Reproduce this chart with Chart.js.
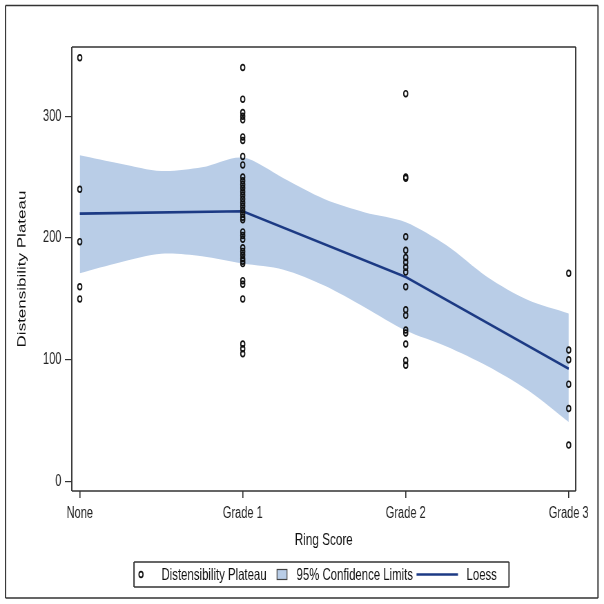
<!DOCTYPE html>
<html>
<head>
<meta charset="utf-8">
<script src="https://cdn.jsdelivr.net/npm/chart.js@4"></script>
<style>
html, body { margin: 0; padding: 0; background: #fff; }
#wrap { width: 604px; height: 604px; overflow: hidden; position: relative; }
/* the original picture is squeezed sideways, so draw wide and squeeze */
#chart { position: absolute; left: 0; top: 0; transform: scaleX(0.6903); transform-origin: 0 0; }
</style>
</head>
<body>
<div id="wrap"><canvas id="chart" width="875" height="604"></canvas></div>
<script>
var categories = ["None", "Grade 1", "Grade 2", "Grade 3"];
var noneValues = [348, 240, 197, 160, 150];
var grade1Values = [340, 314, 303, 300, 297, 283, 280, 267, 260, 250, 247, 244, 241, 238, 235, 232, 229, 226, 223, 220, 217, 215,
                    205, 202, 199, 192, 189, 186, 183, 181, 179, 165, 162, 150, 113, 109, 105];
var grade2Values = [318.5, 250, 249, 201, 190, 184, 180, 176, 172, 160, 141, 136.5, 124.5, 122, 113, 99.5, 95.5];
var grade3Values = [171, 108, 100, 80, 60, 30];
var loessValues = [220, 222, 168, 92.6];
var bandPos = [0, 0.25, 0.5, 0.75, 1, 1.25, 1.5, 1.75, 2, 2.25, 2.5, 2.75, 3];
var bandUpper = [268, 261, 255, 258, 266, 249, 232, 221, 213, 194, 168, 149, 138];
var bandLower = [171, 180, 187, 185, 179, 174, 161, 143, 124, 111, 95, 75, 49];
var yTicks = [0, 100, 200, 300];

var F = 0.6903;           // horizontal squeeze
var bandColor = '#b9cde7';
var loessColor = '#1c3a84';
var fontFam = "'Liberation Sans', Arial, sans-serif";
Chart.defaults.font.family = fontFam;

var groups = [noneValues, grade1Values, grade2Values, grade3Values];
var pts = [];
groups.forEach(function (vals, i) {
  vals.forEach(function (v) { pts.push({x: i, y: v}); });
});

function xy(xs, ys) {
  return xs.map(function (x, i) { return {x: x, y: ys[i]}; });
}

function X(v) { return v / F; }  // final px -> canvas px

var framePlugin = {
  id: 'frames',
  afterDraw: function (chart) {
    var ctx = chart.ctx, a = chart.chartArea;
    ctx.save();
    ctx.strokeStyle = '#333';
    function box(l, t, r, b) {
      ctx.lineWidth = 1.3;
      ctx.beginPath();
      ctx.moveTo(l, t); ctx.lineTo(r, t);
      ctx.moveTo(l, b); ctx.lineTo(r, b);
      ctx.stroke();
      ctx.lineWidth = 1.9;
      ctx.beginPath();
      ctx.moveTo(l, t); ctx.lineTo(l, b);
      ctx.moveTo(r, t); ctx.lineTo(r, b);
      ctx.stroke();
    }
    box(a.left, a.top, a.right, a.bottom);
    box(X(5.5), 5.5, X(598), 598);

    // legend
    var ly = 574.5;
    box(X(134), 562, X(509), 587);
    ctx.lineWidth = 1.7;
    ctx.strokeStyle = '#111';
    ctx.beginPath();
    ctx.arc(X(141), ly, 2.9, 0, Math.PI * 2);
    ctx.stroke();
    ctx.fillStyle = bandColor;
    ctx.fillRect(X(277), ly - 5, X(10), 10);
    ctx.strokeStyle = '#444';
    ctx.lineWidth = 1.2;
    ctx.strokeRect(X(277), ly - 5, X(10), 10);
    ctx.strokeStyle = loessColor;
    ctx.lineWidth = 2.5;
    ctx.beginPath();
    ctx.moveTo(X(416.5), ly); ctx.lineTo(X(458), ly);
    ctx.stroke();
    ctx.fillStyle = '#111';
    ctx.font = '16.5px ' + fontFam;
    ctx.textBaseline = 'middle';
    ctx.textAlign = 'left';
    ctx.fillText('Distensibility Plateau', X(161.5), ly + 1);
    ctx.fillText('95% Confidence Limits', X(296.5), ly + 1);
    ctx.fillText('Loess', X(466.5), ly + 1);
    ctx.restore();
  }
};

new Chart(document.getElementById('chart'), {
  type: 'scatter',
  data: {
    datasets: [
      {
        label: 'Distensibility Plateau',
        data: pts,
        pointStyle: 'circle',
        pointRadius: 2.9,
        pointBorderWidth: 1.7,
        pointBorderColor: '#111',
        pointBackgroundColor: 'rgba(0,0,0,0)',
        order: 0
      },
      {
        type: 'line',
        label: 'Loess',
        data: xy([0, 1, 2, 3], loessValues),
        borderColor: loessColor,
        borderWidth: 2.6,
        pointRadius: 0,
        tension: 0,
        fill: false,
        order: 1
      },
      {
        type: 'line',
        label: '95% Confidence Limits',
        data: xy(bandPos, bandUpper),
        borderColor: 'rgba(0,0,0,0)',
        borderWidth: 0,
        backgroundColor: bandColor,
        pointRadius: 0,
        tension: 0.3,
        fill: '+1',
        order: 2
      },
      {
        type: 'line',
        label: 'lower',
        data: xy(bandPos, bandLower),
        borderColor: 'rgba(0,0,0,0)',
        borderWidth: 0,
        pointRadius: 0,
        tension: 0.3,
        fill: false,
        order: 3
      }
    ]
  },
  options: {
    responsive: false,
    animation: false,
    layout: { padding: { left: 0, right: 41, top: 47, bottom: 0 } },
    plugins: {
      legend: { display: false },
      tooltip: { enabled: false }
    },
    scales: {
      x: {
        type: 'linear',
        min: -0.049,
        max: 3.043,
        afterBuildTicks: function (s) { s.ticks = categories.map(function (c, i) { return {value: i}; }); },
        afterFit: function (s) { s.height = 113; },
        ticks: {
          callback: function (v) { return categories[v]; },
          font: { size: 16 },
          color: '#222',
          padding: 6,
          maxRotation: 0,
          autoSkip: false
        },
        grid: { drawOnChartArea: false, drawTicks: true, tickLength: 7, color: '#333', lineWidth: 1.6 },
        border: { display: false },
        title: { display: true, text: 'Ring Score', color: '#111', font: { size: 17 }, padding: { top: 0, bottom: 53 } }
      },
      y: {
        min: -7.7,
        max: 356.8,
        afterBuildTicks: function (s) { s.ticks = yTicks.map(function (v) { return {value: v}; }); },
        afterFit: function (s) { s.width = 104; },
        ticks: { font: { size: 16 }, color: '#222', padding: 5 },
        grid: { drawOnChartArea: false, drawTicks: true, tickLength: 10, color: '#333', lineWidth: 1.2 },
        border: { display: false },
        title: { display: true, text: 'Distensibility Plateau', color: '#111', font: { size: 17 }, padding: { top: 22, bottom: 0 } }
      }
    }
  },
  plugins: [framePlugin]
});
</script>
</body>
</html>
